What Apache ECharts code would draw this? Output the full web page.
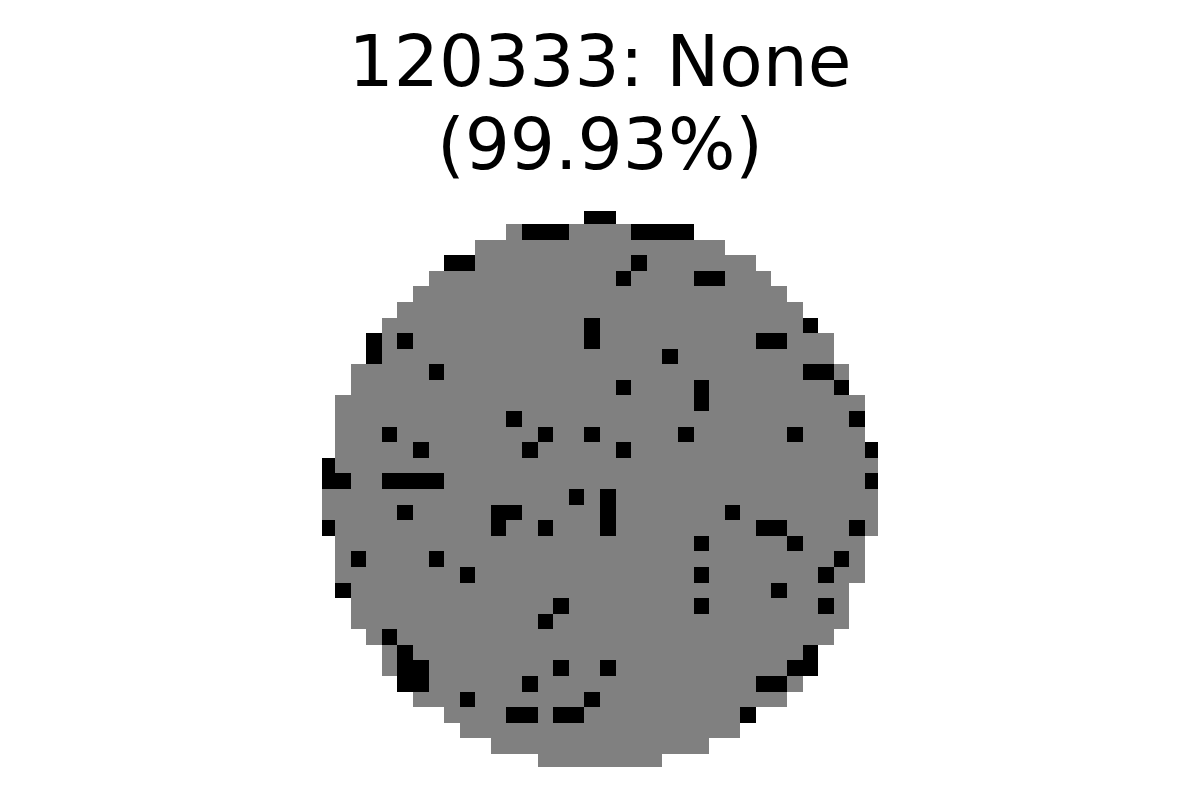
<!DOCTYPE html>
<html>
<head>
<meta charset="utf-8">
<script src="https://cdn.jsdelivr.net/npm/echarts@6/dist/echarts.min.js"></script>
<style>
  html, body { margin: 0; padding: 0; background: #ffffff; }
  #chart { width: 1200px; height: 800px; }
</style>
</head>
<body>
<div id="chart"></div>
<script>
// ---- data ----
const titleLine1 = '120333: None';
const titleLine2 = '(99.93%)';
const gridCols = 36;
const gridRows = 36;
// first and last occupied column of each row (row 0 = top)
const rowStart = [17,12,10,8,7,6,5,4,3,3,2,2,1,1,1,1,0,0,0,0,0,1,1,1,1,2,2,3,4,4,5,6,8,9,11,14];
const rowEnd   = [18,23,25,27,28,29,30,31,32,32,33,33,34,34,34,35,35,35,35,35,35,34,34,34,33,33,33,32,31,31,30,29,27,26,24,21];
// failing dies [column, row]
const failDies = [
  [17,0],[18,0],
  [13,1],[14,1],[15,1],[20,1],[21,1],[22,1],[23,1],
  [8,3],[9,3],[20,3],
  [19,4],[24,4],[25,4],
  [17,7],[31,7],
  [3,8],[5,8],[17,8],[28,8],[29,8],
  [3,9],[22,9],
  [7,10],[31,10],[32,10],
  [19,11],[24,11],[33,11],
  [24,12],
  [12,13],[34,13],
  [4,14],[14,14],[17,14],[23,14],[30,14],
  [6,15],[13,15],[19,15],[35,15],
  [0,16],
  [0,17],[1,17],[4,17],[5,17],[6,17],[7,17],[35,17],
  [16,18],[18,18],
  [5,19],[11,19],[12,19],[18,19],[26,19],
  [0,20],[11,20],[14,20],[18,20],[28,20],[29,20],[34,20],
  [24,21],[30,21],
  [2,22],[7,22],[33,22],
  [9,23],[24,23],[32,23],
  [1,24],[29,24],
  [15,25],[24,25],[32,25],
  [14,26],
  [4,27],
  [5,28],[31,28],
  [5,29],[6,29],[15,29],[18,29],[30,29],[31,29],
  [5,30],[6,30],[13,30],[28,30],[29,30],
  [9,31],[17,31],
  [12,32],[13,32],[15,32],[16,32],[27,32]
];
const PASS = 1, FAIL = 2;

// ---- build cell table ----
const failSet = new Set(failDies.map(d => d[0] + ',' + d[1]));
const cells = [];
for (let r = 0; r < gridRows; r++) {
  for (let c = rowStart[r]; c <= rowEnd[r]; c++) {
    cells.push([c, r, failSet.has(c + ',' + r) ? FAIL : PASS]);
  }
}

const edgeCrop = 0.166; // part of the outer cells hidden by the frame

const chart = echarts.init(document.getElementById('chart'), null, { renderer: 'canvas' });
chart.setOption({
  animation: false,
  backgroundColor: '#ffffff',
  title: {
    text: titleLine1 + '\n' + titleLine2,
    left: 'center',
    top: 21,
    textStyle: {
      fontFamily: 'DejaVu Sans',
      fontSize: 71,
      fontWeight: 'normal',
      lineHeight: 83,
      color: '#000000',
      align: 'center'
    }
  },
  grid: { left: 322, top: 211, width: 556, height: 556 },
  xAxis: {
    type: 'value',
    min: -0.5 + edgeCrop,
    max: gridCols - 0.5 - edgeCrop,
    show: false
  },
  yAxis: {
    type: 'value',
    inverse: true,
    min: -0.5 + edgeCrop,
    max: gridRows - 0.5 - edgeCrop,
    show: false
  },
  series: [{
    type: 'custom',
    clip: true,
    encode: { x: 0, y: 1 },
    data: cells,
    renderItem: function (params, api) {
      const x = api.value(0), y = api.value(1), s = api.value(2);
      const p0 = api.coord([x - 0.5, y - 0.5]);
      const p1 = api.coord([x + 0.5, y + 0.5]);
      const x0 = Math.round(Math.min(p0[0], p1[0]));
      const x1 = Math.round(Math.max(p0[0], p1[0]));
      const y0 = Math.round(Math.min(p0[1], p1[1]));
      const y1 = Math.round(Math.max(p0[1], p1[1]));
      return {
        type: 'rect',
        shape: { x: x0, y: y0, width: x1 - x0, height: y1 - y0 },
        style: { fill: s === FAIL ? '#000000' : '#808080', stroke: null }
      };
    }
  }]
});
</script>
</body>
</html>
